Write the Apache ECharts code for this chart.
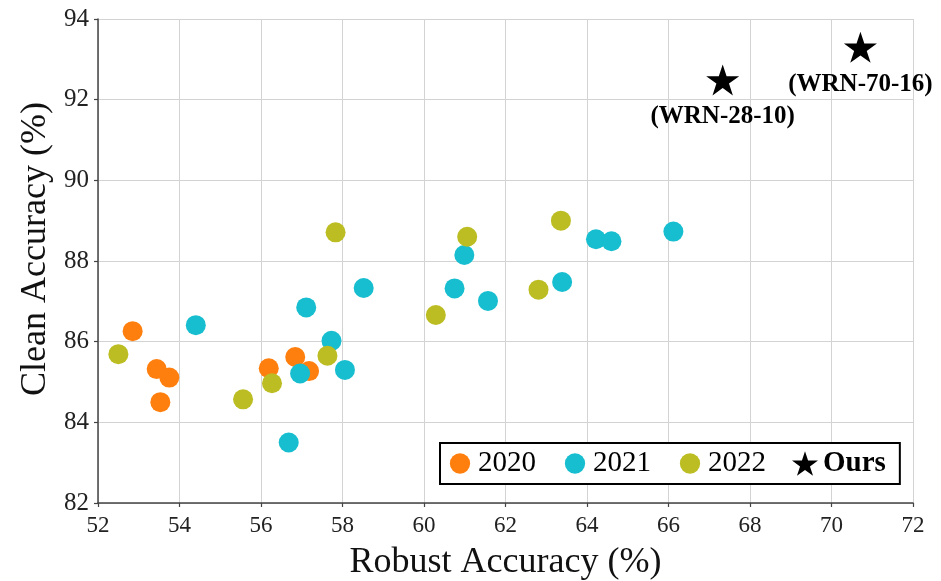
<!DOCTYPE html>
<html>
<head>
<meta charset="utf-8">
<script src="https://cdn.jsdelivr.net/npm/echarts@6/dist/echarts.min.js"></script>
<style>html,body{margin:0;padding:0;background:#fff}#c{width:941px;height:581px}</style>
</head>
<body>
<div id="c"></div>
<script>
// ---- data ----
const x2020 = [52.85, 53.44, 53.75, 53.53, 56.19, 56.84, 57.18];
const y2020 = [86.26, 85.32, 85.11, 84.50, 85.34, 85.62, 85.27];
const x2021 = [54.40, 57.11, 58.52, 57.73, 58.06, 56.96, 56.68, 60.99, 60.75, 61.57, 63.39, 64.22, 64.60, 66.12];
const y2021 = [86.41, 86.85, 87.33, 86.02, 85.30, 85.21, 83.50, 88.15, 87.32, 87.01, 87.48, 88.54, 88.49, 88.73];
const x2022 = [57.83, 52.50, 57.63, 56.27, 55.56, 61.06, 60.29, 62.81, 63.36];
const y2022 = [88.71, 85.69, 85.65, 84.97, 84.57, 88.60, 86.66, 87.29, 89.00];
const xOurs = [67.33, 70.71];
const yOurs = [92.49, 93.30];
const oursLabels = ['(WRN-28-10)', '(WRN-70-16)'];
const seriesNames = ['2020', '2021', '2022', 'Ours'];

const FONT = "'Liberation Serif', 'DejaVu Serif', serif";
const STAR = 'path://M50 0 L61.23 34.55 L97.55 34.55 L68.17 55.9 L79.39 90.45 L50 69.1 L20.61 90.45 L31.83 55.9 L2.45 34.55 L38.77 34.55 Z';
// circle icon with a padded bounding box so legend circles stay smaller than the star
const LEG_CIRCLE = 'path://M0 0 M100 100 M89 50 A39 39 0 1 1 11 50 A39 39 0 1 1 89 50 Z';
const colors = ['#ff7f0e', '#17becf', '#bcbd22', '#000000'];

function pairs(xs, ys) { return xs.map((v, i) => [v, ys[i]]); }

const chart = echarts.init(document.getElementById('c'), null, {renderer: 'canvas'});
chart.setOption({
  animation: false,
  backgroundColor: '#fff',
  textStyle: {fontFamily: FONT},
  grid: {left: 98, right: 28, top: 19, bottom: 78, containLabel: false, outerBoundsMode: 'none'},
  xAxis: {
    type: 'value', min: 52, max: 72, interval: 2,
    name: 'Robust Accuracy (%)', nameLocation: 'middle', nameGap: 42,
    nameTextStyle: {fontFamily: FONT, fontSize: 36, color: '#111'},
    axisLine: {show: true, onZero: false, lineStyle: {color: '#444', width: 1.5}},
    axisTick: {show: true, length: 4, lineStyle: {color: '#444', width: 1.2}},
    axisLabel: {fontFamily: FONT, fontSize: 23, color: '#222', margin: 11},
    splitLine: {show: true, lineStyle: {color: '#d3d3d3', width: 1}}
  },
  yAxis: {
    type: 'value', min: 82, max: 94, interval: 2,
    name: 'Clean Accuracy (%)', nameLocation: 'middle', nameGap: 44,
    nameTextStyle: {fontFamily: FONT, fontSize: 36, color: '#111', padding: [0, 0, 0, 24]},
    axisLine: {show: true, onZero: false, lineStyle: {color: '#444', width: 1.5}},
    axisTick: {show: true, length: 4, lineStyle: {color: '#444', width: 1.2}},
    axisLabel: {fontFamily: FONT, fontSize: 25, color: '#222', margin: 9},
    splitLine: {show: true, lineStyle: {color: '#d3d3d3', width: 1}}
  },
  legend: {
    left: 440, top: 443,
    orient: 'horizontal',
    padding: [6, 14, 6, 7],
    itemGap: 26,
    itemWidth: 26, itemHeight: 26,
    borderColor: '#000', borderWidth: 2, borderRadius: 0,
    backgroundColor: '#fff',
    textStyle: {fontFamily: FONT, fontSize: 29, color: '#000'},
    data: [
      {name: seriesNames[0], icon: LEG_CIRCLE},
      {name: seriesNames[1], icon: LEG_CIRCLE},
      {name: seriesNames[2], icon: LEG_CIRCLE},
      {name: seriesNames[3], icon: STAR, textStyle: {fontWeight: 'bold', fontFamily: FONT, fontSize: 29}}
    ]
  },
  series: [
    {name: seriesNames[0], type: 'scatter', symbol: 'circle', symbolSize: 20,
     itemStyle: {color: colors[0], opacity: 1}, data: pairs(x2020, y2020), z: 2},
    {name: seriesNames[1], type: 'scatter', symbol: 'circle', symbolSize: 20,
     itemStyle: {color: colors[1], opacity: 1}, data: pairs(x2021, y2021), z: 3},
    {name: seriesNames[2], type: 'scatter', symbol: 'circle', symbolSize: 20,
     itemStyle: {color: colors[2], opacity: 1}, data: pairs(x2022, y2022), z: 4},
    {name: seriesNames[3], type: 'scatter', symbol: STAR, symbolSize: [33, 31],
     itemStyle: {color: colors[3], opacity: 1}, z: 5,
     label: {show: true, position: 'bottom', distance: 9, formatter: '{b}',
             fontFamily: FONT, fontWeight: 'bold', fontSize: 25, color: '#000'},
     data: xOurs.map((v, i) => ({name: oursLabels[i], value: [v, yOurs[i]]}))}
  ]
});
</script>
</body>
</html>
